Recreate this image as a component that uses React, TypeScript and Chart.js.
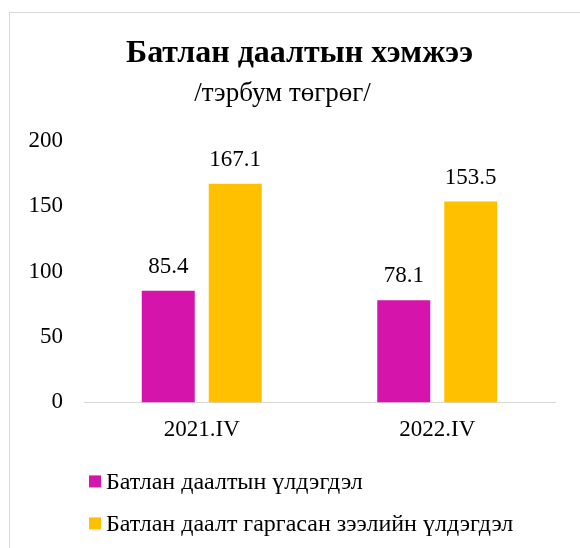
import React, { useEffect, useRef } from "react";
import { Chart, registerables } from "chart.js";

Chart.register(...registerables);

const titleText = "Батлан даалтын хэмжээ";
const subtitleText = "/тэрбум төгрөг/";
const categories = ["2021.IV", "2022.IV"];
const seriesNames = ["Батлан даалтын үлдэгдэл", "Батлан даалт гаргасан зээлийн үлдэгдэл"];
const guaranteeBalance = [85.4, 78.1];
const guaranteedLoanBalance = [167.1, 153.5];
const yMin = 0;
const yMax = 200;
const yStep = 50;
const seriesColors = ["#D514AB", "#FFC000"];

const FONT = "'Liberation Serif', 'Times New Roman', serif";

const valueLabelPlugin = {
  id: "valueLabels",
  afterDatasetsDraw(chart: any) {
    const ctx = chart.ctx;
    ctx.save();
    ctx.font = `23px ${FONT}`;
    ctx.fillStyle = "#000";
    ctx.textAlign = "center";
    ctx.textBaseline = "middle";
    chart.data.datasets.forEach((ds: any, di: number) => {
      const meta = chart.getDatasetMeta(di);
      meta.data.forEach((bar: any, i: number) => {
        ctx.fillText(Number(ds.data[i]).toFixed(1), bar.x, bar.y - 24);
      });
    });
    ctx.restore();
  },
};

const legendPlugin = {
  id: "stackedLegend",
  afterDraw(chart: any) {
    const ctx = chart.ctx;
    const area = chart.chartArea;
    ctx.save();
    ctx.font = `24px ${FONT}`;
    ctx.textAlign = "left";
    ctx.textBaseline = "middle";
    chart.data.datasets.forEach((ds: any, i: number) => {
      const cy = area.bottom + 79 + i * 42;
      const x = area.left + 5;
      ctx.fillStyle = ds.backgroundColor;
      ctx.fillRect(x, cy - 6, 12, 12);
      ctx.fillStyle = "#000";
      ctx.fillText(ds.label, x + 17, cy + 1);
    });
    ctx.restore();
  },
};

const titleShiftPlugin = {
  id: "titleShift",
  afterLayout(chart: any) {
    const t = chart.titleBlock;
    if (t) {
      t.left += 17;
      t.right += 17;
    }
  },
};

export default function App() {
  const ref = useRef<HTMLCanvasElement | null>(null);

  useEffect(() => {
    if (!ref.current) return;
    const chart = new Chart(ref.current, {
      type: "bar",
      data: {
        labels: categories,
        datasets: [
          {
            label: seriesNames[0],
            data: guaranteeBalance,
            backgroundColor: seriesColors[0],
            categoryPercentage: 0.569,
            barPercentage: 0.791,
          },
          {
            label: seriesNames[1],
            data: guaranteedLoanBalance,
            backgroundColor: seriesColors[1],
            categoryPercentage: 0.569,
            barPercentage: 0.791,
          },
        ],
      },
      options: {
        responsive: false,
        animation: false,
        devicePixelRatio: 1,
        layout: { padding: { left: 0, right: 35, top: 0, bottom: 90 } },
        plugins: {
          legend: { display: false },
          tooltip: { enabled: false },
          title: {
            display: true,
            text: titleText,
            color: "#000",
            font: { family: FONT, size: 32, weight: "bold" },
            padding: { top: 22, bottom: 4 },
          },
          subtitle: {
            display: true,
            text: subtitleText,
            color: "#000",
            font: { family: FONT, size: 27, weight: "normal" },
            padding: { top: 0, bottom: 31 },
          },
        },
        scales: {
          x: {
            grid: { display: false, drawTicks: false },
            border: { display: true, color: "#D9D9D9", width: 1 },
            ticks: { color: "#000", font: { family: FONT, size: 23 }, padding: 14 },
          },
          y: {
            min: yMin,
            max: yMax,
            grid: { display: false, drawTicks: false },
            border: { display: false },
            ticks: { stepSize: yStep, color: "#000", font: { family: FONT, size: 23 }, padding: 21 },
            afterFit: (scale: any) => {
              scale.width = 74;
            },
          },
        },
      },
      plugins: [valueLabelPlugin, legendPlugin, titleShiftPlugin],
    });
    return () => chart.destroy();
  }, []);

  return (
    <div style={{ position: "fixed", left: 0, top: 0, width: 580, height: 548, overflow: "hidden", background: "#fff" }}>
      <div
        style={{
          position: "absolute",
          left: 9,
          top: 12,
          width: 640,
          height: 620,
          border: "1px solid #D9D9D9",
          boxSizing: "border-box",
        }}
      >
        <canvas ref={ref} width={580} height={535} style={{ display: "block" }} />
      </div>
    </div>
  );
}
